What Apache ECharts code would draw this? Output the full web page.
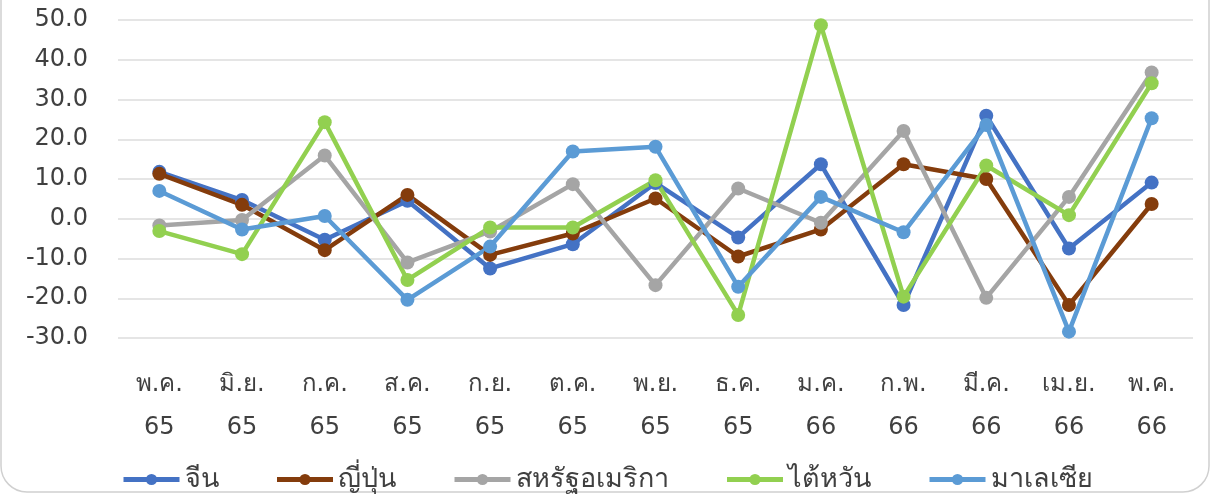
<!DOCTYPE html>
<html>
<head>
<meta charset="utf-8">
<script src="https://cdn.jsdelivr.net/npm/echarts@6/dist/echarts.min.js"></script>
<style>
html,body{margin:0;padding:0;background:#fff;}
#c{width:1223px;height:495px;}
</style>
</head>
<body>
<div id="c"></div>
<script>
const categories = ['พ.ค.\n65','มิ.ย.\n65','ก.ค.\n65','ส.ค.\n65','ก.ย.\n65','ต.ค.\n65','พ.ย.\n65','ธ.ค.\n65','ม.ค.\n66','ก.พ.\n66','มี.ค.\n66','เม.ย.\n66','พ.ค.\n66'];
const china    = [11.8, 4.7, -5.3, 4.5, -12.5, -6.4, 9.0, -4.7, 13.7, -21.7, 25.9, -7.5, 9.1];
const japan    = [11.3, 3.5, -7.9, 6.0, -9.1, -3.7, 5.1, -9.5, -2.7, 13.7, 10.0, -21.7, 3.7];
const usa      = [-1.7, -0.3, 15.9, -11.0, -3.2, 8.7, -16.7, 7.6, -1.0, 22.1, -19.9, 5.5, 36.8];
const taiwan   = [-3.1, -8.9, 24.3, -15.4, -2.2, -2.2, 9.7, -24.2, 48.7, -19.6, 13.4, 0.9, 34.1];
const malaysia = [7.0, -2.7, 0.7, -20.4, -7.0, 16.9, 18.1, -17.1, 5.5, -3.4, 23.6, -28.4, 25.3];
const seriesNames = ['จีน','ญี่ปุ่น','สหรัฐอเมริกา','ไต้หวัน','มาเลเซีย'];
const yTicks = {min: -30, max: 50, interval: 10};

const colors = ['#4472C4','#843C0C','#A5A5A5','#92D050','#5B9BD5'];
const FONT = '"DejaVu Sans", "Noto Sans", sans-serif';
const chart = echarts.init(document.getElementById('c'));
const mk = (name, data, i) => ({
  name, type: 'line', data,
  symbol: 'circle', symbolSize: 14,
  lineStyle: {width: 4.5, color: colors[i]},
  itemStyle: {color: colors[i]},
  emphasis: {disabled: true},
  animation: false
});
chart.setOption({
  animation: false,
  color: colors,
  graphic: [{
    type: 'rect', shape: {x: 1, y: -40, width: 1208, height: 532, r: 26},
    style: {fill: 'none', stroke: '#D0D0D0', lineWidth: 1.5}, z: -10
  }],
  title: {
    text: 'อัตราการขยายตัวของมูลค่าการส่งออกไปยังตลาดสำคัญ (%YoY)',
    left: 'center', top: -33,
    textStyle: {color: '#0070C0', fontSize: 26, fontFamily: FONT, fontWeight: 'bold'}
  },
  grid: {left: 118, right: 30, top: 20, bottom: 157},
  xAxis: {
    type: 'category', data: categories, boundaryGap: true,
    axisLine: {show: false}, axisTick: {show: false},
    axisLabel: {interval: 0, color: '#404040', fontSize: 24, lineHeight: 43, margin: 25, fontFamily: FONT}
  },
  yAxis: {
    type: 'value', min: yTicks.min, max: yTicks.max, interval: yTicks.interval,
    axisLine: {show: false}, axisTick: {show: false},
    splitLine: {lineStyle: {color: '#DCDCDC', width: 1.5}},
    axisLabel: {color: '#404040', fontSize: 24, margin: 30, fontFamily: FONT,
      formatter: v => v.toFixed(1)}
  },
  legend: {
    data: seriesNames, bottom: -3, left: 116,
    itemWidth: 56, itemHeight: 14, itemGap: 56,
    lineStyle: {width: 5},
    textStyle: {color: '#404040', fontSize: 27, fontFamily: FONT}
  },
  series: [
    mk(seriesNames[0], china, 0),
    mk(seriesNames[1], japan, 1),
    mk(seriesNames[2], usa, 2),
    mk(seriesNames[3], taiwan, 3),
    mk(seriesNames[4], malaysia, 4)
  ]
});
</script>
</body>
</html>
